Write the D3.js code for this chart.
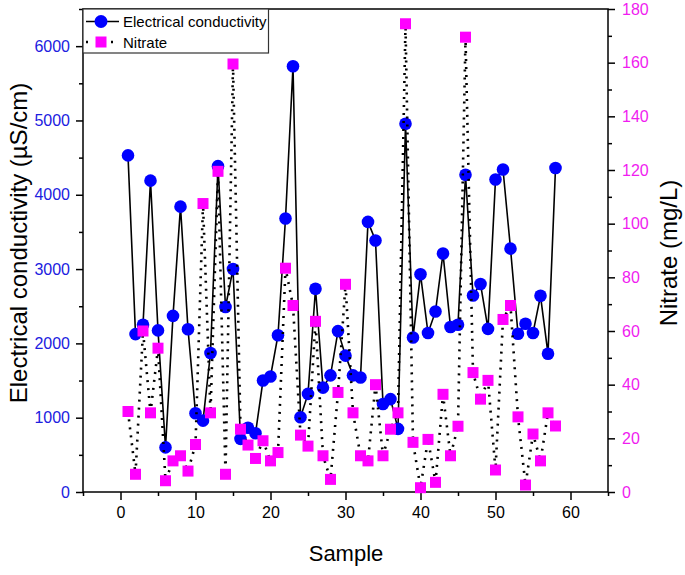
<!DOCTYPE html>
<html>
<head>
<meta charset="utf-8">
<script src="https://cdn.jsdelivr.net/npm/d3@7/dist/d3.min.js"></script>
<style>
  html, body { margin: 0; padding: 0; background: #fff; }
  svg { display: block; font-family: "Liberation Sans", Arial, sans-serif; }
</style>
</head>
<body>
<svg id="chart" width="685" height="575"></svg>
<script>
const samples = [1,2,3,4,5,6,7,8,9,10,11,12,13,14,15,16,17,18,19,20,21,22,23,24,25,26,27,28,29,30,
  31,32,33,34,35,36,37,38,39,40,41,42,43,44,45,46,47,48,49,50,51,52,53,54,55,56,57,58];
const conductivity = [4530,2125,2250,4190,2175,600,2370,3840,2190,1060,960,1870,4385,2490,3000,715,865,790,1500,1555,
  2110,3680,5730,1005,1320,2735,1405,1570,2165,1835,1570,1540,3635,3385,1185,1250,850,4955,2080,2930,
  2140,2430,3210,2220,2250,4270,2645,2800,2195,4205,4340,3275,2130,2265,2140,2640,1860,4360];
const nitrate = [30,6.6,60,29.5,53.6,4.2,11.6,13.5,7.8,17.7,107.5,29.5,119.5,6.6,159.5,23.4,17.5,12.5,19.1,11.6,
  14.7,83.4,69.5,21.2,17.1,63.6,13.5,4.7,37.1,77.4,29.5,13.5,11.6,40,13.5,23.4,29.5,174.5,18.5,1.6,
  19.6,3.6,36.4,13.5,24.5,169.5,44.5,34.6,41.6,8.2,64.3,69.5,28,2.6,21.6,11.6,29.5,24.6];
const xTicks = [0,10,20,30,40,50,60];
const xMinor = [-5,5,15,25,35,45,55,65];
const ecTicks = [0,1000,2000,3000,4000,5000,6000];
const ecMinor = [500,1500,2500,3500,4500,5500,6500];
const no3Ticks = [0,20,40,60,80,100,120,140,160,180];
const no3Minor = [10,30,50,70,90,110,130,150,170];
const seriesNames = ["Electrical conductivity","Nitrate"];

const svg = d3.select("#chart");
const L = 83, R = 608, T = 9, B = 492;

const x = d3.scaleLinear().domain([-5,65]).range([L,R]);
const yL = d3.scaleLinear().domain([0,6500]).range([B,T]);
const yR = d3.scaleLinear().domain([0,180]).range([B,T]);

const BLUE = "#0000ff", MAG = "#ff00ff";
const BLUE_TXT = "#2020e0", MAG_TXT = "#f01cf0";

function styleAxis(g, color) {
  g.select(".domain").remove();
  g.selectAll(".tick line").attr("stroke", "#000").attr("stroke-width", 1.5);
  g.selectAll(".tick text").attr("fill", color).attr("font-size", 16)
    .attr("font-family", "Liberation Sans, Arial, sans-serif");
}

// X axis
svg.append("g").attr("transform", `translate(0,${B})`)
  .call(d3.axisBottom(x).tickValues(xTicks).tickSize(8).tickPadding(7).tickFormat(d3.format("d")))
  .call(g => styleAxis(g, "#000"));
svg.append("g").attr("transform", `translate(0,${B})`)
  .call(d3.axisBottom(x).tickValues(xMinor).tickSize(4).tickFormat(""))
  .call(g => styleAxis(g, "#000"));

// Left axis
svg.append("g").attr("transform", `translate(${L},0)`)
  .call(d3.axisLeft(yL).tickValues(ecTicks).tickSize(7).tickPadding(6).tickFormat(d3.format("d")))
  .call(g => styleAxis(g, BLUE_TXT));
svg.append("g").attr("transform", `translate(${L},0)`)
  .call(d3.axisLeft(yL).tickValues(ecMinor).tickSize(4).tickFormat(""))
  .call(g => styleAxis(g, BLUE_TXT));

// Right axis
svg.append("g").attr("transform", `translate(${R},0)`)
  .call(d3.axisRight(yR).tickValues(no3Ticks).tickSize(7).tickPadding(7).tickFormat(d3.format("d")))
  .call(g => styleAxis(g, MAG_TXT));
svg.append("g").attr("transform", `translate(${R},0)`)
  .call(d3.axisRight(yR).tickValues(no3Minor).tickSize(4).tickFormat(""))
  .call(g => styleAxis(g, MAG_TXT));

// Frame
svg.append("rect").attr("x", L).attr("y", T).attr("width", R - L).attr("height", B - T)
  .attr("fill", "none").attr("stroke", "#000").attr("stroke-width", 1.5);

// Axis titles
svg.append("text").attr("transform", `translate(27,243) rotate(-90)`)
  .attr("text-anchor", "middle").attr("font-size", 24).attr("fill", "#000")
  .text("Electrical conductivity (µS/cm)");
svg.append("text").attr("transform", `translate(677,253) rotate(-90)`)
  .attr("text-anchor", "middle").attr("font-size", 24).attr("fill", "#000")
  .text("Nitrate (mg/L)");
svg.append("text").attr("x", 346).attr("y", 561)
  .attr("text-anchor", "middle").attr("font-size", 22).attr("fill", "#000")
  .text("Sample");

const ecData = samples.map((s, i) => ({s, v: conductivity[i]}));
const no3Data = samples.map((s, i) => ({s, v: nitrate[i]}));

// EC line + markers
svg.append("path").datum(ecData)
  .attr("fill", "none").attr("stroke", "#000").attr("stroke-width", 1.6)
  .attr("d", d3.line().x(d => x(d.s)).y(d => yL(d.v)));
svg.append("g").selectAll("circle").data(ecData).join("circle")
  .attr("cx", d => x(d.s)).attr("cy", d => yL(d.v)).attr("r", 6.3)
  .attr("fill", BLUE);

// Nitrate line + markers
svg.append("path").datum(no3Data)
  .attr("fill", "none").attr("stroke", "#000").attr("stroke-width", 2.6)
  .attr("stroke-dasharray", "2,6")
  .attr("d", d3.line().x(d => x(d.s)).y(d => yR(d.v)));
svg.append("g").selectAll("rect").data(no3Data).join("rect")
  .attr("x", d => x(d.s) - 5.5).attr("y", d => yR(d.v) - 5.5)
  .attr("width", 11).attr("height", 11).attr("fill", MAG);

// Legend
const lg = svg.append("g");
lg.append("rect").attr("x", L).attr("y", T).attr("width", 185.5).attr("height", 44)
  .attr("fill", "#fff").attr("stroke", "#333").attr("stroke-width", 1.2);
lg.append("line").attr("x1", 86).attr("x2", 119).attr("y1", 21.5).attr("y2", 21.5)
  .attr("stroke", "#000").attr("stroke-width", 1.5);
lg.append("circle").attr("cx", 101).attr("cy", 21.5).attr("r", 6.5).attr("fill", BLUE);
lg.append("line").attr("x1", 86).attr("x2", 120).attr("y1", 42).attr("y2", 42)
  .attr("stroke", "#000").attr("stroke-width", 2.4).attr("stroke-dasharray", "2,10.5");
lg.append("rect").attr("x", 95.5).attr("y", 36.5).attr("width", 11).attr("height", 11).attr("fill", MAG);
lg.selectAll("text.lab").data(seriesNames).join("text")
  .attr("class", "lab")
  .attr("x", 123).attr("y", (d, i) => i === 0 ? 27 : 47.5)
  .attr("font-size", 15).attr("fill", "#000")
  .text(d => d);
</script>
</body>
</html>
